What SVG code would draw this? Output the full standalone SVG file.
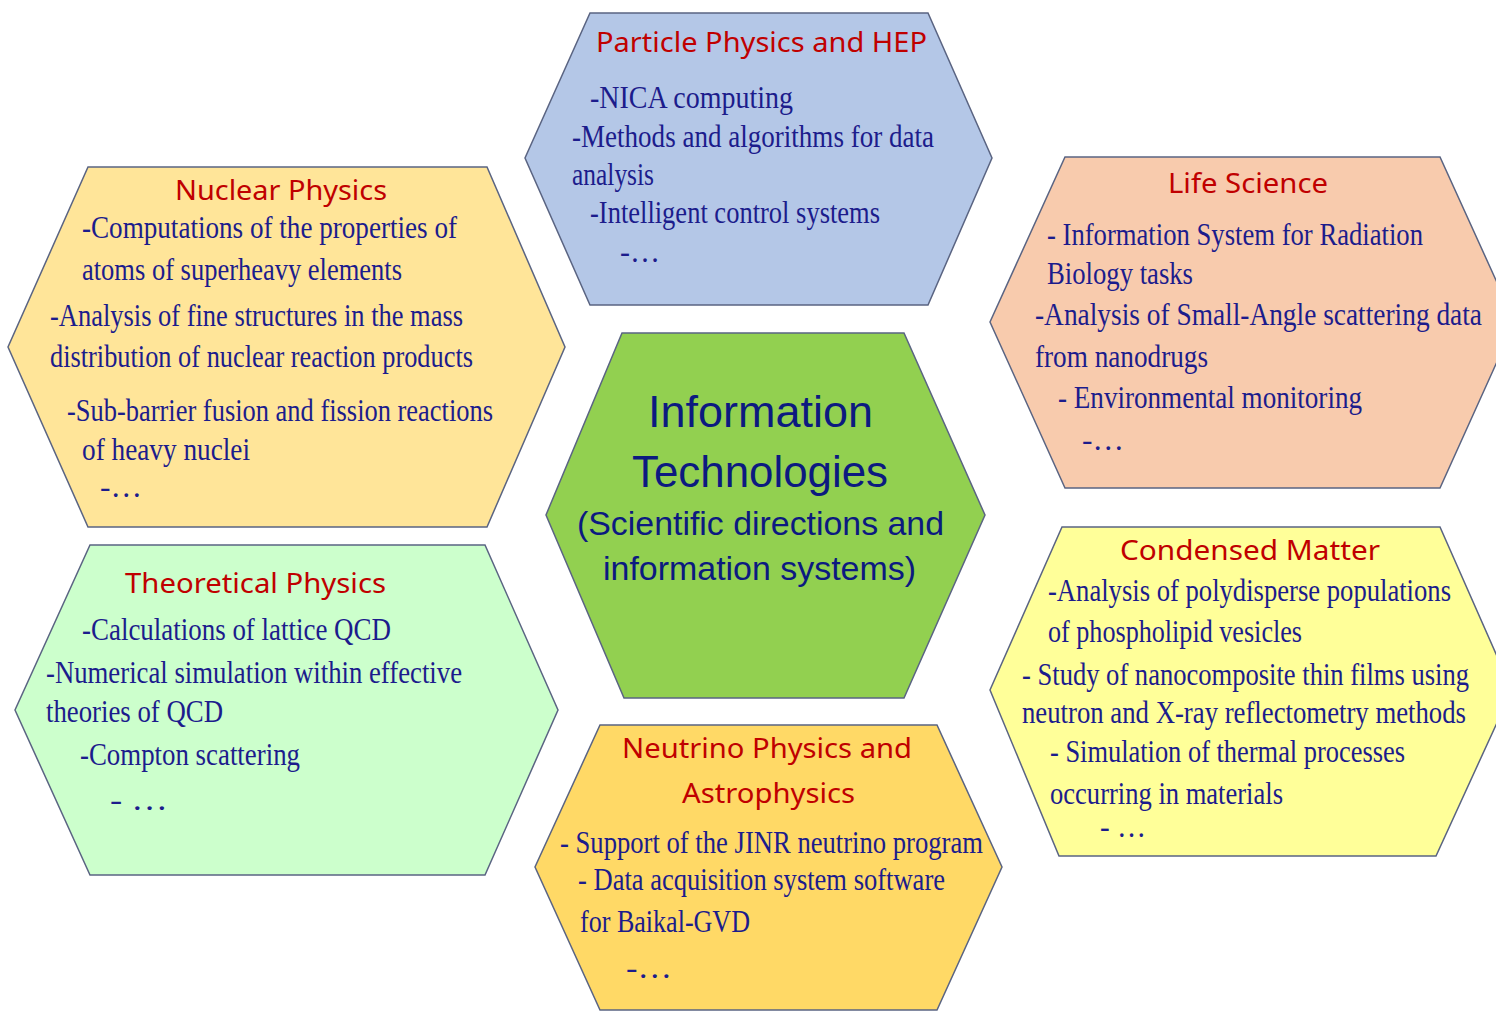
<svg xmlns="http://www.w3.org/2000/svg" width="1496" height="1012" viewBox="0 0 1496 1012">
<style>
.hex{stroke:#5a6482;stroke-width:1.5}
.t{font-family:"Noto Sans","Open Sans",sans-serif;font-size:28px;fill:#c00000}
.b{font-family:"Liberation Serif","Times New Roman",serif;font-size:32px;fill:#1c1c8c}
.c{font-family:"Liberation Sans",Arial,sans-serif;fill:#0c1a80}
</style>
<rect width="1496" height="1012" fill="#ffffff"/>
<g id="connectors"/>
<g id="particle">
<polygon class="hex" fill="#b4c7e7" points="590,13 928,13 992,158 928,305 590,305 525,158"/>
<text class="t" x="596" y="52" textLength="331" lengthAdjust="spacingAndGlyphs">Particle Physics and HEP</text>
<text class="b" x="590" y="108" textLength="203" lengthAdjust="spacingAndGlyphs">-NICA computing</text>
<text class="b" x="572" y="147" textLength="362" lengthAdjust="spacingAndGlyphs">-Methods and algorithms  for data</text>
<text class="b" x="572" y="185" textLength="82" lengthAdjust="spacingAndGlyphs">analysis</text>
<text class="b" x="590" y="223" textLength="290" lengthAdjust="spacingAndGlyphs">-Intelligent  control systems</text>
<text class="b" x="620" y="262" textLength="40" lengthAdjust="spacingAndGlyphs">-…</text>
</g>
<g id="nuclear">
<polygon class="hex" fill="#ffe599" points="88,167 487,167 565,347 487,527 88,527 8,347"/>
<text class="t" x="175" y="200" textLength="212" lengthAdjust="spacingAndGlyphs">Nuclear Physics</text>
<text class="b" x="82" y="238" textLength="375" lengthAdjust="spacingAndGlyphs">-Computations of the properties of</text>
<text class="b" x="82" y="280" textLength="320" lengthAdjust="spacingAndGlyphs">atoms of superheavy elements</text>
<text class="b" x="50" y="326" textLength="413" lengthAdjust="spacingAndGlyphs">-Analysis  of fine structures in the mass</text>
<text class="b" x="50" y="367" textLength="423" lengthAdjust="spacingAndGlyphs">distribution  of nuclear reaction products</text>
<text class="b" x="67" y="421" textLength="426" lengthAdjust="spacingAndGlyphs">-Sub-barrier fusion and fission reactions</text>
<text class="b" x="82" y="460" textLength="168" lengthAdjust="spacingAndGlyphs">of heavy nuclei</text>
<text class="b" x="100" y="497" textLength="42" lengthAdjust="spacingAndGlyphs">-…</text>
</g>
<g id="life-science">
<polygon class="hex" fill="#f8cbad" points="1065,157 1440,157 1515,322 1440,488 1065,488 990,322"/>
<text class="t" x="1168" y="193" textLength="160" lengthAdjust="spacingAndGlyphs">Life Science</text>
<text class="b" x="1047" y="245" textLength="376" lengthAdjust="spacingAndGlyphs">- Information System  for Radiation</text>
<text class="b" x="1047" y="284" textLength="146" lengthAdjust="spacingAndGlyphs">Biology tasks</text>
<text class="b" x="1035" y="325" textLength="447" lengthAdjust="spacingAndGlyphs">-Analysis  of  Small-Angle scattering   data</text>
<text class="b" x="1035" y="367" textLength="173" lengthAdjust="spacingAndGlyphs">from nanodrugs</text>
<text class="b" x="1058" y="408" textLength="304" lengthAdjust="spacingAndGlyphs">- Environmental  monitoring</text>
<text class="b" x="1082" y="450" textLength="42" lengthAdjust="spacingAndGlyphs">-…</text>
</g>
<g id="theoretical">
<polygon class="hex" fill="#ccffcc" points="90,545 485,545 558,710 485,875 90,875 15,710"/>
<text class="t" x="125" y="593" textLength="261" lengthAdjust="spacingAndGlyphs">Theoretical Physics</text>
<text class="b" x="82" y="640" textLength="309" lengthAdjust="spacingAndGlyphs">-Calculations  of lattice  QCD</text>
<text class="b" x="46" y="683" textLength="416" lengthAdjust="spacingAndGlyphs">-Numerical  simulation  within effective</text>
<text class="b" x="46" y="722" textLength="177" lengthAdjust="spacingAndGlyphs">theories of QCD</text>
<text class="b" x="80" y="765" textLength="220" lengthAdjust="spacingAndGlyphs">-Compton scattering</text>
<text class="b" x="110" y="810" textLength="58" lengthAdjust="spacingAndGlyphs">-   …</text>
</g>
<g id="information-technologies">
<polygon class="hex" fill="#92d050" points="622,333 904,333 985,515 904,698 624,698 546,515"/>
<text class="c" x="648" y="427" font-size="45" textLength="225" lengthAdjust="spacingAndGlyphs">Information</text>
<text class="c" x="632" y="487" font-size="45" textLength="256" lengthAdjust="spacingAndGlyphs">Technologies</text>
<text class="c" x="577" y="535" font-size="33" textLength="367" lengthAdjust="spacingAndGlyphs">(Scientific directions and</text>
<text class="c" x="603" y="580" font-size="33" textLength="313" lengthAdjust="spacingAndGlyphs">information systems)</text>
</g>
<g id="condensed-matter">
<polygon class="hex" fill="#ffff99" points="1062,527 1440,527 1512,690 1436,856 1059,856 990,690"/>
<text class="t" x="1120" y="560" textLength="260" lengthAdjust="spacingAndGlyphs">Condensed Matter</text>
<text class="b" x="1048" y="601" textLength="403" lengthAdjust="spacingAndGlyphs">-Analysis  of polydisperse populations</text>
<text class="b" x="1048" y="642" textLength="254" lengthAdjust="spacingAndGlyphs">of phospholipid vesicles</text>
<text class="b" x="1022" y="685" textLength="447" lengthAdjust="spacingAndGlyphs">- Study of nanocomposite thin films using</text>
<text class="b" x="1022" y="723" textLength="444" lengthAdjust="spacingAndGlyphs">neutron and X-ray reflectometry  methods</text>
<text class="b" x="1050" y="762" textLength="355" lengthAdjust="spacingAndGlyphs">- Simulation  of thermal processes</text>
<text class="b" x="1050" y="804" textLength="233" lengthAdjust="spacingAndGlyphs">occurring  in materials</text>
<text class="b" x="1100" y="837" textLength="46" lengthAdjust="spacingAndGlyphs">- …</text>
</g>
<g id="neutrino">
<polygon class="hex" fill="#ffd966" points="600,725 937,725 1002,867 937,1010 600,1010 535,867"/>
<text class="t" x="622" y="758" textLength="290" lengthAdjust="spacingAndGlyphs">Neutrino Physics and</text>
<text class="t" x="682" y="803" textLength="173" lengthAdjust="spacingAndGlyphs">Astrophysics</text>
<text class="b" x="560" y="853" textLength="423" lengthAdjust="spacingAndGlyphs">- Support of the JINR neutrino program</text>
<text class="b" x="578" y="890" textLength="367" lengthAdjust="spacingAndGlyphs">- Data acquisition system  software</text>
<text class="b" x="580" y="932" textLength="170" lengthAdjust="spacingAndGlyphs">for Baikal-GVD</text>
<text class="b" x="626" y="978" textLength="46" lengthAdjust="spacingAndGlyphs">-…</text>
</g>
</svg>
